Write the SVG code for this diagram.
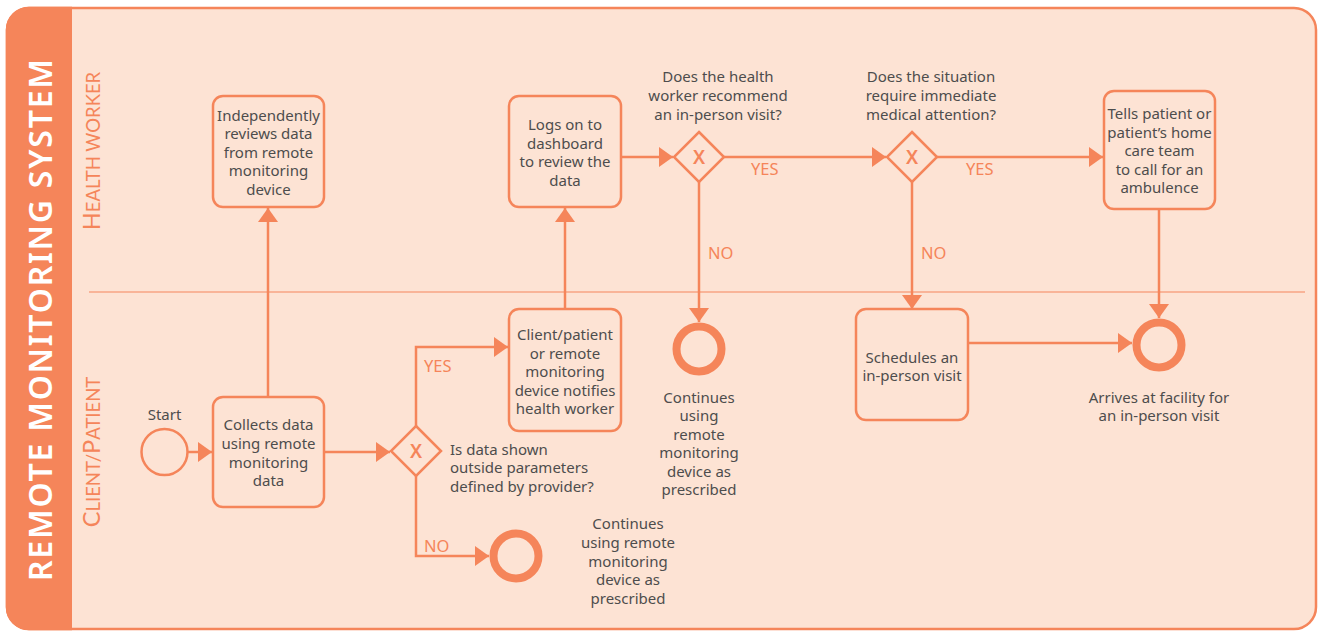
<svg xmlns="http://www.w3.org/2000/svg" width="1319" height="631" viewBox="0 0 1319 631">
<style>
.box{fill:none;stroke:#F5855A;stroke-width:2.5}
.gw{fill:none;stroke:#F5855A;stroke-width:2.5}
.end{fill:none;stroke:#F5855A;stroke-width:8}
.t{font-family:"Noto Sans",Lato,sans-serif;font-size:15px;fill:#4d4d4d;text-anchor:middle}
.tl{font-family:"Noto Sans",Lato,sans-serif;font-size:15px;fill:#4d4d4d;text-anchor:start}
.lbl{font-family:"Noto Sans",Lato,sans-serif;font-size:16.5px;fill:#F5855A}
.x{font-family:"Noto Sans",Lato,sans-serif;font-size:19px;font-weight:600;fill:#F5855A;text-anchor:middle}
.lane{font-family:Lato,"Noto Sans",sans-serif;font-weight:400;fill:#F5855A;text-anchor:middle;font-size:18.5px}
.conn path{fill:none;stroke:#F5855A;stroke-width:2.5}
</style>
<defs>
<marker id="ah" markerUnits="userSpaceOnUse" markerWidth="14" markerHeight="20" refX="14" refY="10" orient="auto">
<path d="M0,0 L14,10 L0,20 Z" fill="#F5855A"/>
</marker>
</defs>
<g id="frame">
<rect x="7" y="8" width="1309" height="621" rx="22" fill="#FDE3D4" stroke="#F5855A" stroke-width="2.5"/>
<path d="M72,6.8 H30 A23,23 0 0 0 5.8,30 V607 A23,23 0 0 0 30,630.2 H72 Z" fill="#F5855A"/>
<text transform="translate(52,320) rotate(-90)" text-anchor="middle" font-family="'Noto Sans',Lato,sans-serif" font-weight="600" font-size="32" fill="#ffffff" textLength="522" lengthAdjust="spacing">REMOTE MONITORING SYSTEM</text>
<line x1="89" y1="292" x2="1305" y2="292" stroke="#F7A584" stroke-width="1.5"/>
<text class="lane" transform="translate(100,151) rotate(-90)"><tspan font-size="23.5">H</tspan>EALTH WORKER</text>
<text class="lane" transform="translate(100,452) rotate(-90)"><tspan font-size="23.5">C</tspan>LIENT/<tspan font-size="23.5">P</tspan>ATIENT</text>
</g>
<g class="conn" id="connectors">
<path d="M187,452 H212" marker-end="url(#ah)"/>
<path d="M268,397 V208" marker-end="url(#ah)"/>
<path d="M324,452 H390" marker-end="url(#ah)"/>
<path d="M416,426 V347 H508" marker-end="url(#ah)"/>
<path d="M416,475 V556 H489" marker-end="url(#ah)"/>
<path d="M565,309 V208" marker-end="url(#ah)"/>
<path d="M621,157 H673" marker-end="url(#ah)"/>
<path d="M724,157 H886" marker-end="url(#ah)"/>
<path d="M699,182 V322" marker-end="url(#ah)"/>
<path d="M937,157 H1103" marker-end="url(#ah)"/>
<path d="M912,182 V309" marker-end="url(#ah)"/>
<path d="M968,343 H1132" marker-end="url(#ah)"/>
<path d="M1159,209 V318" marker-end="url(#ah)"/>
<text class="lbl" x="424" y="372">YES</text>
<text class="lbl" x="424" y="552">NO</text>
<text class="lbl" x="751" y="175">YES</text>
<text class="lbl" x="708" y="259">NO</text>
<text class="lbl" x="966" y="175">YES</text>
<text class="lbl" x="921" y="259">NO</text>
</g>
<g id="start">
<circle cx="164.5" cy="452" r="23" fill="none" stroke="#F5855A" stroke-width="2.5"/>
<text class="t" x="164.5" y="420">Start</text>
</g>
<g id="collects">
<rect class="box" x="213" y="397" width="111" height="110" rx="10"/>
<text class="t"><tspan x="268.5" y="430">Collects data</tspan><tspan x="268.5" y="449">using remote</tspan><tspan x="268.5" y="468">monitoring</tspan><tspan x="268.5" y="486">data</tspan></text>
</g>
<g id="reviews">
<rect class="box" x="213" y="96" width="111" height="111" rx="10"/>
<text class="t"><tspan x="268.5" y="121">Independently</tspan><tspan x="268.5" y="139">reviews data</tspan><tspan x="268.5" y="158">from remote</tspan><tspan x="268.5" y="176">monitoring</tspan><tspan x="268.5" y="195">device</tspan></text>
</g>
<g id="gw1">
<path class="gw" d="M416,426 L441,451 L416,476 L391,451 Z"/>
<text class="x" x="416" y="458">X</text>
<text class="tl"><tspan x="450" y="455">Is data shown</tspan><tspan x="450" y="473">outside parameters</tspan><tspan x="450" y="492">defined by provider?</tspan></text>
</g>
<g id="end1">
<circle class="end" cx="516" cy="556" r="22.5"/>
<text class="t"><tspan x="628" y="529">Continues</tspan><tspan x="628" y="548">using remote</tspan><tspan x="628" y="567">monitoring</tspan><tspan x="628" y="585">device as</tspan><tspan x="628" y="604">prescribed</tspan></text>
</g>
<g id="notifies">
<rect class="box" x="509" y="309" width="112" height="122" rx="10"/>
<text class="t"><tspan x="565" y="340">Client/patient</tspan><tspan x="565" y="359">or remote</tspan><tspan x="565" y="377">monitoring</tspan><tspan x="565" y="396">device notifies</tspan><tspan x="565" y="414">health worker</tspan></text>
</g>
<g id="logs">
<rect class="box" x="509" y="96" width="112" height="111" rx="10"/>
<text class="t"><tspan x="565" y="130">Logs on to</tspan><tspan x="565" y="149">dashboard</tspan><tspan x="565" y="167">to review the</tspan><tspan x="565" y="186">data</tspan></text>
</g>
<g id="gw2">
<path class="gw" d="M699,132 L724,157 L699,182 L674,157 Z"/>
<text class="x" x="699" y="164">X</text>
<text class="t"><tspan x="718" y="82">Does the health</tspan><tspan x="718" y="101">worker recommend</tspan><tspan x="718" y="120">an in-person visit?</tspan></text>
</g>
<g id="end2">
<circle class="end" cx="699" cy="349" r="22.5"/>
<text class="t"><tspan x="699" y="403">Continues</tspan><tspan x="699" y="421">using</tspan><tspan x="699" y="440">remote</tspan><tspan x="699" y="458">monitoring</tspan><tspan x="699" y="477">device as</tspan><tspan x="699" y="495">prescribed</tspan></text>
</g>
<g id="gw3">
<path class="gw" d="M912,132 L937,157 L912,182 L887,157 Z"/>
<text class="x" x="912" y="164">X</text>
<text class="t"><tspan x="931" y="82">Does the situation</tspan><tspan x="931" y="101">require immediate</tspan><tspan x="931" y="120">medical attention?</tspan></text>
</g>
<g id="schedules">
<rect class="box" x="856" y="309" width="112" height="111" rx="10"/>
<text class="t"><tspan x="912" y="363">Schedules an</tspan><tspan x="912" y="381">in-person visit</tspan></text>
</g>
<g id="tells">
<rect class="box" x="1104" y="91" width="111" height="118" rx="10"/>
<text class="t"><tspan x="1159.5" y="119">Tells patient or</tspan><tspan x="1159.5" y="138">patient’s home</tspan><tspan x="1159.5" y="156">care team</tspan><tspan x="1159.5" y="175">to call for an</tspan><tspan x="1159.5" y="193">ambulence</tspan></text>
</g>
<g id="end3">
<circle class="end" cx="1159" cy="345" r="22.5"/>
<text class="t"><tspan x="1159" y="403">Arrives at facility for</tspan><tspan x="1159" y="421">an in-person visit</tspan></text>
</g>
</svg>
